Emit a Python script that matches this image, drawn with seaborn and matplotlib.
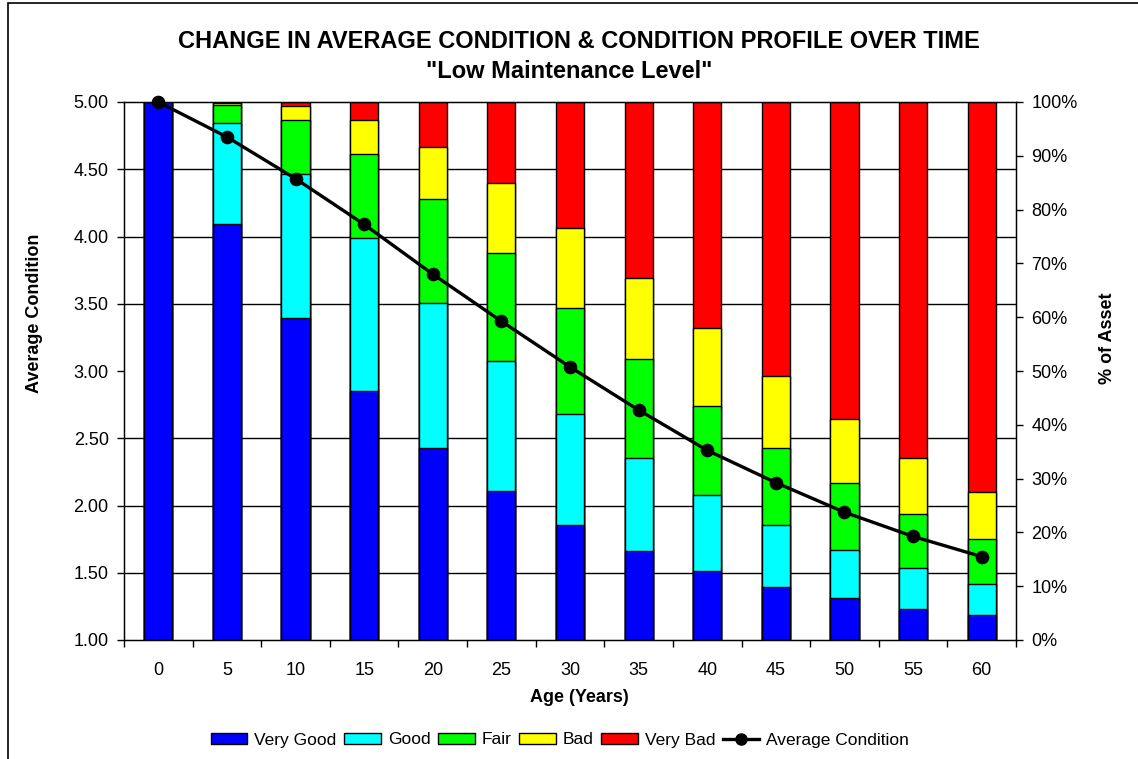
import numpy as np
import pandas as pd
import matplotlib
matplotlib.use("Agg")
import matplotlib.pyplot as plt
from matplotlib.ticker import MultipleLocator, FixedLocator, PercentFormatter, FormatStrFormatter
from matplotlib.patches import Patch, Rectangle
from matplotlib.lines import Line2D
import seaborn as sns

# ---- data ----
ages = [0, 5, 10, 15, 20, 25, 30, 35, 40, 45, 50, 55, 60]
very_good = [100.0, 77.4, 59.8, 46.3, 35.7, 27.7, 21.3, 16.6, 12.8, 9.9, 7.8, 5.8, 4.7]
good      = [0.0, 18.7, 26.8, 28.5, 27.0, 24.1, 20.8, 17.3, 14.2, 11.4, 9.0, 7.5, 5.8]
fair      = [0.0, 3.4, 10.1, 15.5, 19.2, 20.2, 19.7, 18.3, 16.5, 14.4, 12.4, 10.2, 8.3]
bad       = [0.0, 0.3, 2.6, 6.4, 9.8, 12.9, 14.7, 15.1, 14.4, 13.4, 11.9, 10.4, 8.8]
very_bad  = [0.0, 0.2, 0.7, 3.3, 8.3, 15.1, 23.5, 32.7, 42.1, 50.9, 58.9, 66.1, 72.4]
avg_condition = [5.00, 4.74, 4.43, 4.09, 3.72, 3.37, 3.03, 2.71, 2.41, 2.17, 1.95, 1.77, 1.62]

series_names = ["Very Good", "Good", "Fair", "Bad", "Very Bad"]
series_colors = ["#0000FF", "#00FFFF", "#00FF00", "#FFFF00", "#FF0000"]
left_ticks = [1.0, 1.5, 2.0, 2.5, 3.0, 3.5, 4.0, 4.5, 5.0]
right_ticks = [0, 10, 20, 30, 40, 50, 60, 70, 80, 90, 100]

FONT = ["Liberation Sans", "DejaVu Sans"]
plt.rcParams["font.family"] = FONT

W, H = 1138, 759
fig = plt.figure(figsize=(W / 100, H / 100), dpi=100)
fig.patch.set_facecolor("white")

L, R, T, B = 124, 1016, 102, 640
ax = fig.add_axes([L / W, 1 - B / H, (R - L) / W, (B - T) / H])

df = pd.DataFrame({"Age": [str(a) for a in ages]})
stack = [very_good, good, fair, bad, very_bad]
cum = np.cumsum(np.array(stack), axis=0)
order = [str(a) for a in ages]

# draw cumulative totals from the top down so each layer overlays the one above it
for i in range(len(stack) - 1, -1, -1):
    df["val"] = cum[i]
    sns.barplot(data=df, x="Age", y="val", order=order, color=series_colors[i],
                width=0.41, edgecolor="black", linewidth=1.0, saturation=1,
                ax=ax, zorder=2)

ax.set_ylim(0, 100)
ax.set_xlim(-0.5, len(ages) - 0.5)
ax.set_ylabel("")
ax.set_xlabel("")

ax2 = ax.twinx()
sns.pointplot(x=order, y=avg_condition, order=order, color="black",
              markers="o", markersize=8, linewidth=2.4, ax=ax2, zorder=5)
ax2.set_ylim(1.0, 5.0)
ax2.set_xlim(-0.5, len(ages) - 0.5)
ax2.set_ylabel("")
ax2.grid(False)
for ln in ax2.lines:
    ln.set_clip_on(False)
for c in ax2.collections:
    c.set_clip_on(False)

# percent axis on the right (bars)
ax.yaxis.tick_right()
ax.yaxis.set_major_locator(FixedLocator(right_ticks))
ax.yaxis.set_major_formatter(PercentFormatter(decimals=0))
ax.yaxis.set_minor_locator(MultipleLocator(12.5))
ax.grid(which="minor", axis="y", color="black", linewidth=1.0, zorder=0)
ax.grid(which="major", axis="both", visible=False)
ax.set_axisbelow(True)
ax.tick_params(axis="y", which="minor", length=0, left=False, right=False)
ax.tick_params(axis="y", which="major", length=5, width=1, color="black",
               labelsize=13, pad=6, left=False, right=True, labelleft=False, labelright=True)
ax.tick_params(axis="x", which="major", length=0, labelsize=13, pad=16)
ax.xaxis.set_minor_locator(FixedLocator(np.arange(-0.5, len(ages), 1.0)))
ax.tick_params(axis="x", which="minor", length=5, width=1, color="black")
for s in ax.spines.values():
    s.set_color("black")
    s.set_linewidth(1.0)

# average-condition axis on the left (line)
ax2.yaxis.tick_left()
ax2.yaxis.set_major_locator(FixedLocator(left_ticks))
ax2.yaxis.set_major_formatter(FormatStrFormatter("%.2f"))
ax2.tick_params(axis="y", length=5, width=1, color="black", labelsize=13, pad=6,
                left=True, right=False, labelleft=True, labelright=False)

# axis titles
fig.text(35 / W, 1 - 313 / H, "Average Condition", rotation=90, ha="center", va="center",
         fontsize=13, fontweight="bold")
fig.text(1108 / W, 1 - 338 / H, "% of Asset", rotation=90, ha="center", va="center",
         fontsize=13, fontweight="bold")
fig.text(579 / W, 1 - 697 / H, "Age (Years)", ha="center", va="center",
         fontsize=13, fontweight="bold")

# title
fig.text(579 / W, 1 - 41 / H, "CHANGE IN AVERAGE CONDITION & CONDITION PROFILE OVER TIME",
         ha="center", va="center", fontsize=17, fontweight="bold")
fig.text(569 / W, 1 - 71 / H, '"Low Maintenance Level"',
         ha="center", va="center", fontsize=17, fontweight="bold")

# legend
handles = [Patch(facecolor=c, edgecolor="black", linewidth=1.0) for c in series_colors]
handles.append(Line2D([0], [0], color="black", linewidth=2.4, marker="o", markersize=8))
labels = series_names + ["Average Condition"]
fig.legend(handles, labels, loc="center", bbox_to_anchor=(560 / W, 1 - 740 / H),
           ncol=6, frameon=False, fontsize=12.5, handlelength=2.1, handleheight=0.65,
           handletextpad=0.4, columnspacing=0.45, borderaxespad=0, borderpad=0)

# outer chart border
fig.add_artist(Rectangle((8 / W, -0.05), 1.2, 1 - 3 / H + 0.05, transform=fig.transFigure,
                         fill=False, edgecolor="black", linewidth=1.2))

fig.savefig("out.png", dpi=100)
